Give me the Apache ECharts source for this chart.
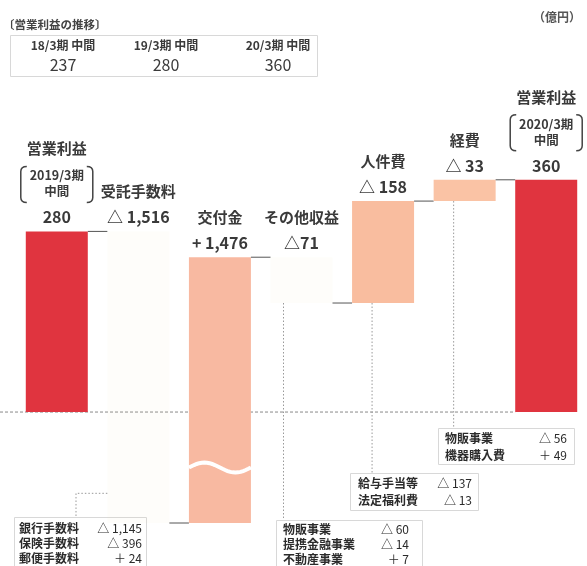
<!DOCTYPE html>
<html><head><meta charset="utf-8">
<script src="https://cdn.jsdelivr.net/npm/echarts@6/dist/echarts.min.js"></script>
<style>html,body{margin:0;padding:0;background:#fff}#c{width:587px;height:566px}</style>
</head><body><div id="c"></div>
<script>
// ---------- data ----------
const categories = ['営業利益（2019/3期 中間）', '受託手数料', '交付金', 'その他収益', '人件費', '経費', '営業利益（2020/3期 中間）'];
const barTitles = ['営業利益', '受託手数料', '交付金', 'その他収益', '人件費', '経費', '営業利益'];
const periodNotes = ['2019/3期\n中間', '', '', '', '', '', '2020/3期\n中間'];
const changes = [280, -1516, 1476, -71, 158, 33, 360];
const isTotal = [true, false, false, false, false, false, true];
const valueLabels = ['280', '△ 1,516', '+ 1,476', '△71', '△ 158', '△ 33', '360'];
const trendPeriods = ['18/3期 中間', '19/3期 中間', '20/3期 中間'];
const trendValues = [237, 280, 360];
const detailFee = [['銀行手数料', '△ 1,145'], ['保険手数料', '△ 396'], ['郵便手数料', '＋ 24']];
const detailOther = [['物販事業', '△ 60'], ['提携金融事業', '△ 14'], ['不動産事業', '＋ 7']];
const detailPersonnel = [['給与手当等', '△ 137'], ['法定福利費', '△ 13']];
const detailExpense = [['物販事業', '△ 56'], ['機器購入費', '＋ 49']];
const axisBreak = { start: -1150, end: -86 };
const leaderValueFee = -1190;

// ---------- styles / layout ----------
const F = '"Noto Sans CJK JP", "Noto Sans", sans-serif';
const TXT = '#3a3a3a';
const barColors = ['#e0343f', 'rgba(245,225,185,0.07)', '#f8b9a1', 'rgba(245,225,185,0.07)', '#f9bd9f', '#fac3a5', '#e0343f'];
const BW = 62;
const boxes = {
  fee:       { rows: detailFee,       x: 14,  y: 517, w: 132, h: 49, lx: 19,  vx: 142, r0: 11, step: 15 },
  other:     { rows: detailOther,     x: 276, y: 520, w: 146, h: 46, lx: 283, vx: 409, r0: 9,  step: 15 },
  personnel: { rows: detailPersonnel, x: 350, y: 473, w: 128, h: 37, lx: 358, vx: 472, r0: 10, step: 17 },
  expense:   { rows: detailExpense,   x: 438, y: 428, w: 136, h: 36, lx: 445, vx: 567, r0: 10, step: 17 }
};

let running = 0;
const barData = changes.map((v, i) => {
  let s, e;
  if (isTotal[i]) { s = 0; e = v; } else { s = running; e = running + v; }
  running = e;
  return [i, s, e];
});

function txt(text, x, y, size, opt) {
  opt = opt || {};
  return { type: 'text', z2: 10, style: Object.assign({ text: text, x: x, y: y, fontSize: size, fontFamily: F, fill: TXT,
    fontWeight: 'bold', align: 'center', verticalAlign: 'middle' }, opt) };
}
function bracket(xl, xr, yt, yb) {
  const a = 6, r = 5;
  return [
    { type: 'path', shape: { pathData: `M${xl + a} ${yt} Q${xl} ${yt} ${xl} ${yt + r} L${xl} ${yb - r} Q${xl} ${yb} ${xl + a} ${yb}` },
      style: { stroke: '#444', lineWidth: 1.5, fill: null } },
    { type: 'path', shape: { pathData: `M${xr - a} ${yt} Q${xr} ${yt} ${xr} ${yt + r} L${xr} ${yb - r} Q${xr} ${yb} ${xr - a} ${yb}` },
      style: { stroke: '#444', lineWidth: 1.5, fill: null } }
  ];
}
const dotted = { stroke: '#999', lineWidth: 1, lineDash: [1.5, 2], fill: null };

function renderItem(params, api) {
  const i = api.value(0), s = api.value(1), e = api.value(2);
  const p1 = api.coord([i, s]), p2 = api.coord([i, e]);
  const cx = p1[0], x0 = cx - BW / 2;
  const yTop = Math.min(p1[1], p2[1]), yBot = Math.max(p1[1], p2[1]);
  const ch = [];
  if (i === 0) {
    const y0 = api.coord([0, 0])[1];
    const xEnd = api.coord([6, 0])[0] - BW / 2;
    ch.push({ type: 'line', shape: { x1: 0, y1: y0, x2: xEnd, y2: y0 }, style: { stroke: '#8a8a8a', lineWidth: 1, lineDash: [3, 2] } });
  }
  ch.push({ type: 'rect', shape: { x: x0, y: yTop, width: BW, height: yBot - yTop }, style: { fill: barColors[i] } });
  if (i === 2) {
    const yw = api.coord([i, axisBreak.end])[1];
    const pts = [];
    for (let k = 0; k <= 24; k++) { const t = k / 24; pts.push([x0 + t * BW, yw - 5 * Math.sin(2 * Math.PI * t)]); }
    ch.push({ type: 'polyline', shape: { points: pts }, style: { stroke: '#fff', lineWidth: 4, fill: null } });
  }
  if (i < changes.length - 1) {
    const nx = api.coord([i + 1, e])[0] - BW / 2;
    ch.push({ type: 'line', shape: { x1: x0 + BW, y1: p2[1], x2: nx, y2: p2[1] }, style: { stroke: '#555', lineWidth: 1 } });
  }
  // leaders
  if (i === 1) {
    const yl = api.coord([i, leaderValueFee])[1];
    const lx = boxes.fee.x + 62;
    ch.push({ type: 'polyline', shape: { points: [[x0, yl], [lx, yl], [lx, boxes.fee.y]] }, style: dotted });
  }
  if (i === 3) ch.push({ type: 'line', shape: { x1: x0 + 13, y1: yBot, x2: x0 + 13, y2: boxes.other.y }, style: dotted });
  if (i === 4) ch.push({ type: 'line', shape: { x1: x0 + 20, y1: yBot, x2: x0 + 20, y2: boxes.personnel.y }, style: dotted });
  if (i === 5) ch.push({ type: 'line', shape: { x1: x0 + 20, y1: yBot, x2: x0 + 20, y2: boxes.expense.y }, style: dotted });
  // labels
  const vy = yTop - 14;
  ch.push(txt(valueLabels[i], cx, vy, 16));
  if (isTotal[i]) {
    const lines = periodNotes[i].split('\n');
    ch.push(txt(lines[0], cx, vy - 42, 12.5));
    ch.push(txt(lines[1], cx, vy - 26, 12.5));
    bracket(x0 - 5, x0 + BW + 5, vy - 51, vy - 15).forEach(b => ch.push(b));
    ch.push(txt(barTitles[i], cx, vy - 69, 15));
  } else {
    ch.push(txt(barTitles[i], cx, vy - 26, 15));
  }
  return { type: 'group', children: ch };
}

// ---------- graphic (header + detail boxes) ----------
const graphic = [];
graphic.push({ type: 'text', x: 3, y: 25, style: { text: '〔営業利益の推移〕', fontSize: 11.5, fontWeight: 'bold', fontFamily: F, fill: '#444', align: 'left', verticalAlign: 'middle' } });
graphic.push({ type: 'text', x: 581, y: 17, style: { text: '（億円）', fontSize: 12, fontWeight: 'bold', fontFamily: F, fill: '#555', align: 'right', verticalAlign: 'middle' } });
graphic.push({ type: 'rect', shape: { x: 10.5, y: 35.5, width: 307, height: 41 }, style: { fill: '#fff', stroke: '#d8d8d8', lineWidth: 1 } });
const trendX = [63, 166, 278];
trendPeriods.forEach((p, k) => {
  graphic.push({ type: 'text', x: trendX[k], y: 45, style: { text: p, fontSize: 12, fontWeight: 'bold', fontFamily: F, fill: TXT, align: 'center', verticalAlign: 'middle' } });
  graphic.push({ type: 'text', x: trendX[k], y: 65, style: { text: String(trendValues[k]), fontSize: 16, fontFamily: F, fill: TXT, align: 'center', verticalAlign: 'middle' } });
});
Object.keys(boxes).forEach(key => {
  const b = boxes[key];
  graphic.push({ type: 'rect', shape: { x: b.x + 0.5, y: b.y + 0.5, width: b.w, height: b.h }, style: { fill: '#fff', stroke: '#d8d8d8', lineWidth: 1 } });
  b.rows.forEach((r, k) => {
    const y = b.y + b.r0 + k * b.step;
    graphic.push({ type: 'text', x: b.lx, y: y, style: { text: r[0], fontSize: 12, fontWeight: 'bold', fontFamily: F, fill: '#2b2b2b', align: 'left', verticalAlign: 'middle' } });
    graphic.push({ type: 'text', x: b.vx, y: y, style: { text: r[1], fontSize: 12, fontFamily: F, fill: '#2b2b2b', align: 'right', verticalAlign: 'middle' } });
  });
});

const chart = echarts.init(document.getElementById('c'));
chart.setOption({
  animation: false,
  backgroundColor: '#fff',
  grid: { left: 16, right: 0, top: 154, bottom: 43 },
  xAxis: { type: 'category', data: categories, show: false, boundaryGap: true },
  yAxis: {
    type: 'value', show: false, min: -1236, max: 400, splitLine: { show: false },
    breaks: [{ start: axisBreak.start, end: axisBreak.end, gap: 0 }],
    breakArea: { show: false, itemStyle: { opacity: 0 } }
  },
  series: [{
    type: 'custom', renderItem: renderItem, data: barData,
    encode: { x: 0, y: [1, 2] }, clip: false, z: 2
  }],
  graphic: graphic
});
</script>
</body></html>
